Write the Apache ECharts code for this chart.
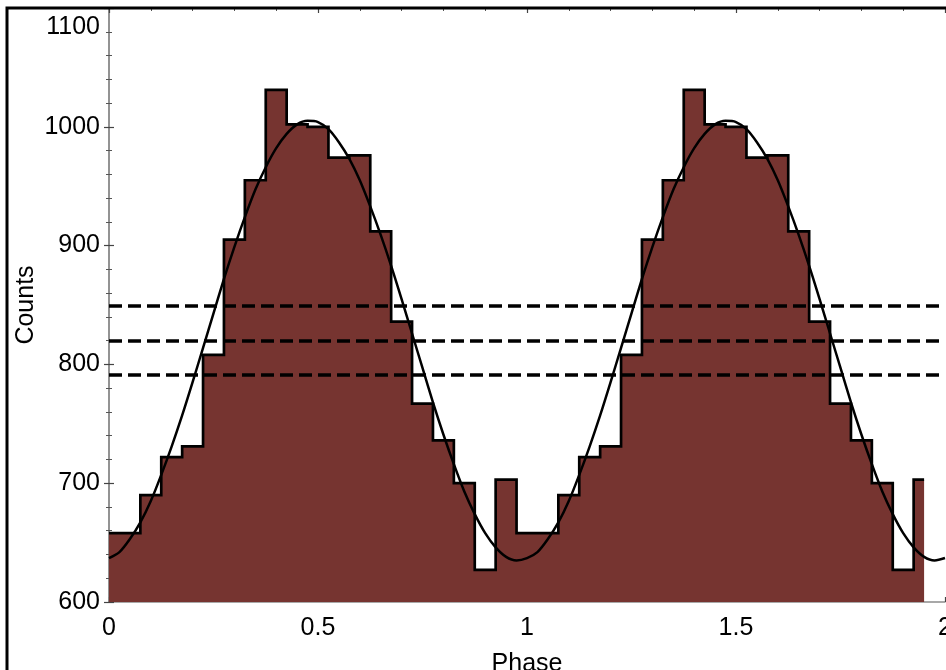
<!DOCTYPE html>
<html>
<head>
<meta charset="utf-8">
<script src="https://cdn.jsdelivr.net/npm/echarts@6/dist/echarts.min.js"></script>
<style>
html,body{margin:0;padding:0;background:#fff;}
#chart{width:946px;height:670px;}
</style>
</head>
<body>
<div id="chart"></div>
<script>
// Histogram bins (phase = bin centre), two folded cycles
const binPhase = [0.00,0.05,0.10,0.15,0.20,0.25,0.30,0.35,0.40,0.45,0.50,0.55,0.60,0.65,0.70,0.75,0.80,0.85,0.90,0.95,
                  1.00,1.05,1.10,1.15,1.20,1.25,1.30,1.35,1.40,1.45,1.50,1.55,1.60,1.65,1.70,1.75,1.80,1.85,1.90,1.95];
const binCounts = [658,658,690,722,731,808,905,955,1031,1002,1000,974,976,912,836,767,736,700,627,703,
                   658,658,690,722,731,808,905,955,1031,1002,1000,974,976,912,836,767,736,700,627,703];
// Fitted curve (every 0.025 in phase)
const curvePhase = [
  0.000,0.025,0.050,0.075,0.100,0.125,0.150,0.175,0.200,0.225,0.250,0.275,0.300,0.325,0.350,0.375,0.400,0.425,0.450,0.475,
  0.500,0.525,0.550,0.575,0.600,0.625,0.650,0.675,0.700,0.725,0.750,0.775,0.800,0.825,0.850,0.875,0.900,0.925,0.950,0.975,
  1.000,1.025,1.050,1.075,1.100,1.125,1.150,1.175,1.200,1.225,1.250,1.275,1.300,1.325,1.350,1.375,1.400,1.425,1.450,1.475,
  1.500,1.525,1.550,1.575,1.600,1.625,1.650,1.675,1.700,1.725,1.750,1.775,1.800,1.825,1.850,1.875,1.900,1.925,1.950,1.975,2.000];
const curveCounts = [
  637,642,653,667,685,707,731,757,785,814,843,872,899,924,947,966,982,994,1002,1005,
  1004,998,987,973,955,933,909,883,855,826,797,768,741,716,693,674,658,646,638,635,
  637,642,653,667,685,707,731,757,785,814,843,872,899,924,947,966,982,994,1002,1005,
  1004,998,987,973,955,933,909,883,855,826,797,768,741,716,693,674,658,646,638,635,637];
// Dashed horizontal levels
const levels = [791, 820, 849];
// Axis ticks
const xTicks = [0, 0.5, 1, 1.5, 2];
const yTicks = [600, 700, 800, 900, 1000, 1100];

const FONT = 'Liberation Sans, Arial, Helvetica, sans-serif';
const chart = echarts.init(document.getElementById('chart'), null, {renderer: 'canvas'});

const histData = binPhase.map((p, i) => [p, binCounts[i]]);
const curveData = curvePhase.map((p, i) => [p, curveCounts[i]]);
const yMax = yTicks[yTicks.length - 1];

const axisLineGray = {show: true, lineStyle: {color: '#8c8c8c', width: 1.5}};
const tickStyle = {show: true, inside: true, length: 5, lineStyle: {color: '#444', width: 1.2}};
const minorStyle = {show: true, splitNumber: 5, length: 3, lineStyle: {color: '#555', width: 1}};

const option = {
  animation: false,
  backgroundColor: '#fff',
  grid: {left: 109, right: 1, top: 8, bottom: 68, outerBoundsMode: 'none', containLabel: false},
  xAxis: [{
    type: 'value', min: xTicks[0], max: xTicks[xTicks.length - 1], interval: 0.5,
    position: 'bottom',
    name: 'Phase', nameLocation: 'middle', nameGap: 50, nameMoveOverlap: false,
    nameTextStyle: {fontFamily: FONT, fontSize: 25, color: '#000'},
    axisLine: axisLineGray, axisTick: tickStyle, minorTick: minorStyle,
    splitLine: {show: false},
    axisLabel: {fontFamily: FONT, fontSize: 25, color: '#000', margin: 14, showMaxLabel: true, showMinLabel: true,
                hideOverlap: false, formatter: v => String(v)}
  }, {
    type: 'value', min: xTicks[0], max: xTicks[xTicks.length - 1], interval: 0.5,
    position: 'top',
    axisLine: axisLineGray, axisTick: tickStyle, minorTick: minorStyle,
    splitLine: {show: false}, axisLabel: {show: false}
  }],
  yAxis: [{
    type: 'value', min: yTicks[0], max: yMax, interval: 100,
    position: 'left',
    name: 'Counts', nameLocation: 'middle', nameGap: 70, nameMoveOverlap: false,
    nameTextStyle: {fontFamily: FONT, fontSize: 25, color: '#000'},
    axisLine: axisLineGray, axisTick: tickStyle, minorTick: minorStyle,
    splitLine: {show: false},
    axisLabel: {fontFamily: FONT, fontSize: 25, color: '#000', margin: 9, showMaxLabel: true,
                verticalAlignMaxLabel: 'top',
                formatter: v => (v === yMax ? '{t|' + v + '}' : String(v)),
                rich: {t: {fontFamily: FONT, fontSize: 25, color: '#000', padding: [7, 0, 0, 0]}}}
  }, {
    type: 'value', min: yTicks[0], max: yMax, interval: 100,
    position: 'right',
    axisLine: axisLineGray, axisTick: tickStyle, minorTick: minorStyle,
    splitLine: {show: false}, axisLabel: {show: false}
  }],
  series: [{
    name: 'histogram', type: 'line', step: 'middle',
    data: histData, symbol: 'none', z: 2,
    lineStyle: {color: '#000', width: 2.7, join: 'miter'},
    areaStyle: {color: '#763430', opacity: 1, origin: 'start'}
  }, {
    name: 'fit', type: 'line', smooth: 0.3,
    data: curveData, symbol: 'none', z: 3,
    lineStyle: {color: '#000', width: 2.5},
    markLine: {
      silent: true, symbol: ['none', 'none'], label: {show: false},
      lineStyle: {color: '#000', width: 3.6, type: [13, 6]},
      data: levels.map(v => ({yAxis: v}))
    }
  }],
  graphic: [{
    type: 'polyline', z: 100, silent: true,
    shape: {points: [[7, 680], [7, 8], [960, 8]]},
    style: {stroke: '#000', lineWidth: 3, fill: null}
  }]
};
chart.setOption(option);
</script>
</body>
</html>
